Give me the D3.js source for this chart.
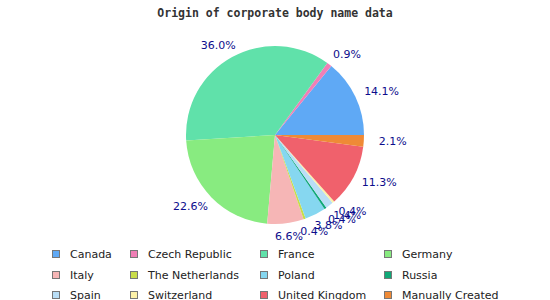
<!DOCTYPE html>
<html>
<head>
<meta charset="utf-8">
<script src="https://cdn.jsdelivr.net/npm/d3@7"></script>
<style>
	body { margin: 0; background: #fff; }
	svg { display: block; }
</style>
</head>
<body>
<svg id="chart" width="550" height="300"></svg>
<script>
const categories = ["Canada", "Czech Republic", "France", "Germany", "Italy", "The Netherlands",
	"Poland", "Russia", "Spain", "Switzerland", "United Kingdom", "Manually Created"];
const shares = [14.1, 0.9, 36.0, 22.6, 6.6, 0.4, 3.8, 0.4, 1.4, 0.4, 11.3, 2.1];
const colours = ["#5fa9f5", "#f07fb6", "#60e1aa", "#88eb80", "#f6b6b6", "#c9dc4a",
	"#86d7f0", "#10a877", "#b9def6", "#fcf1a8", "#f0616c", "#ef8a36"];
const title = "Origin of corporate body name data";

const width = 550;
const cx = 275, cy = 135, radius = 89;
// labels sit on a squashed ring round the pie
const labelRx = 118, labelRy = 102;

const svg = d3.select("#chart");

svg.append("text")
	.attr("x", width / 2)
	.attr("y", 17)
	.attr("text-anchor", "middle")
	.attr("font-family", "DejaVu Sans Mono")
	.attr("font-weight", "bold")
	.attr("font-size", "11.5px")
	.attr("fill", "#333")
	.text(title);

const data = categories.map((c, i) => ({ name: c, value: shares[i], colour: colours[i] }));

// start at 3 o'clock and go round anticlockwise
const pie = d3.pie()
	.sort(null)
	.value(d => d.value)
	.startAngle(Math.PI / 2)
	.endAngle(Math.PI / 2 - 2 * Math.PI);

const arc = d3.arc().innerRadius(0).outerRadius(radius);
const arcs = pie(data);

const g = svg.append("g").attr("transform", `translate(${cx},${cy})`);

g.selectAll("path.slice")
	.data(arcs)
	.join("path")
	.attr("class", "slice")
	.attr("d", arc)
	.attr("fill", d => d.data.colour);

g.selectAll("text.pct")
	.data(arcs)
	.join("text")
	.attr("class", "pct")
	.attr("x", d => labelRx * Math.sin((d.startAngle + d.endAngle) / 2))
	.attr("y", d => -labelRy * Math.cos((d.startAngle + d.endAngle) / 2))
	.attr("text-anchor", "middle")
	.attr("dominant-baseline", "central")
	.attr("font-family", "DejaVu Sans")
	.attr("font-size", "11px")
	.attr("fill", "#0d0d8c")
	.text(d => d.data.value.toFixed(1) + "%");

// legend, four columns
const colX = d3.scaleOrdinal().domain([0, 1, 2, 3]).range([52, 130, 260, 384]);
const rowY = d3.scaleOrdinal().domain([0, 1, 2]).range([254, 275, 295]);

const legend = svg.append("g")
	.selectAll("g")
	.data(data)
	.join("g")
	.attr("transform", (d, i) => `translate(${colX(i % 4)},${rowY(Math.floor(i / 4))})`);

legend.append("rect")
	.attr("x", 0.5)
	.attr("y", -3.5)
	.attr("width", 7)
	.attr("height", 7)
	.attr("fill", d => d.colour)
	.attr("stroke", "#777")
	.attr("stroke-width", 1);

legend.append("text")
	.attr("x", 18)
	.attr("y", 0)
	.attr("dominant-baseline", "central")
	.attr("font-family", "DejaVu Sans")
	.attr("font-size", "11px")
	.attr("fill", "#222")
	.text(d => d.name);
</script>
</body>
</html>
